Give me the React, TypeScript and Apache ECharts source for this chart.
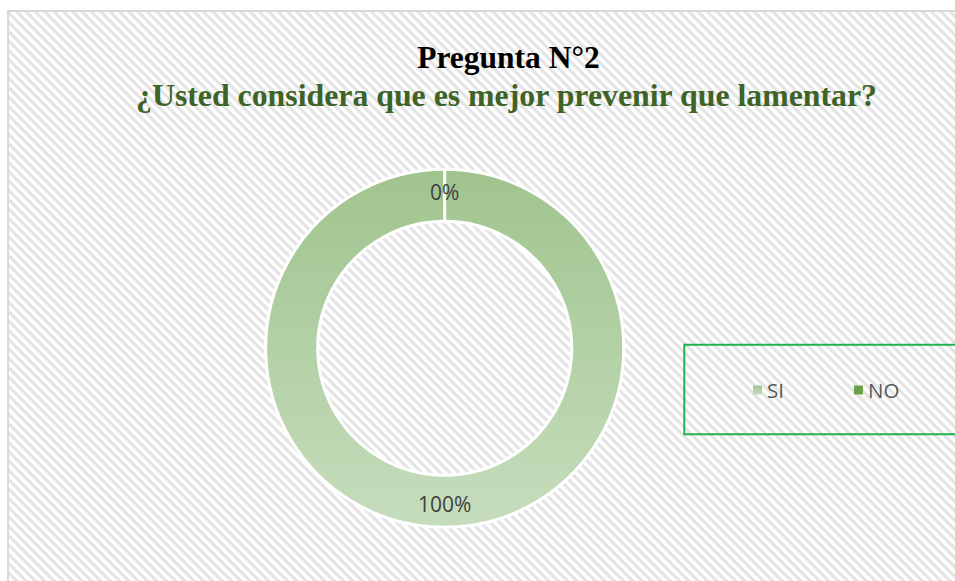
import React, { useEffect, useRef } from "react";
import * as echarts from "echarts";

const titleText = "Pregunta N°2";
const subtitleText = "¿Usted considera que es mejor prevenir que lamentar?";
const categories = ["SI", "NO"];
const values = [100, 0];

export default function App() {
  const ref = useRef<HTMLDivElement>(null);
  useEffect(() => {
    if (!ref.current) return;
    const chart = echarts.init(ref.current, null, { renderer: "svg" });
    const siColor = new echarts.graphic.LinearGradient(0, 0, 0, 1, [
      { offset: 0, color: "#a0c48e" },
      { offset: 1, color: "#c6ddbd" },
    ]);
    const colors = [siColor, "#6e9f4c"];
    chart.setOption({
      animation: false,
      backgroundColor: "transparent",
      graphic: [
        {
          type: "text",
          x: 500.5,
          y: 46.8,
          silent: true,
          style: {
            text: titleText,
            fill: "#000000",
            font: 'bold 31.5px "Liberation Serif"',
            align: "center",
            verticalAlign: "middle",
          },
        },
        {
          type: "text",
          x: 498.5,
          y: 84.2,
          silent: true,
          style: {
            text: subtitleText,
            fill: "#3e6327",
            font: 'bold 31.8px "Liberation Serif"',
            align: "center",
            verticalAlign: "middle",
          },
        },
        {
          type: "rect",
          silent: true,
          shape: { x: 676.3, y: 333.7, width: 300, height: 89.6 },
          style: { fill: "none", stroke: "#21b24f", lineWidth: 2 },
        },
      ],
      legend: {
        data: categories,
        left: 745,
        top: 368,
        padding: 0,
        icon: "rect",
        itemWidth: 9,
        itemHeight: 9,
        itemGap: 70,
        selectedMode: false,
        itemStyle: { borderWidth: 0 },
        textStyle: {
          fontFamily: '"Open Sans"',
          fontSize: 20.5,
          lineHeight: 22,
          color: "#595959",
        },
      },
      series: [
        {
          type: "pie",
          center: [436.7, 337.3],
          radius: [127, 179],
          startAngle: 90,
          clockwise: true,
          silent: true,
          avoidLabelOverlap: false,
          itemStyle: { borderColor: "#ffffff", borderWidth: 3 },
          label: {
            show: true,
            position: "inside",
            formatter: "{d}%",
            fontFamily: '"Open Sans"',
            fontSize: 21,
            color: "#404040",
          },
          labelLine: { show: false },
          data: categories.map((c, i) => ({
            name: c,
            value: values[i],
            itemStyle: { color: colors[i] },
          })),
        },
      ],
    });
    return () => chart.dispose();
  }, []);

  return (
    <>
      <div
        style={{
          position: "fixed",
          left: 7,
          top: 10,
          width: 970,
          height: 590,
          boxSizing: "border-box",
          border: "2px solid #d9d9d9",
          background:
            "repeating-linear-gradient(45deg, #ffffff 0px, #ffffff 2px, #e4e4e4 3.4px, #e4e4e4 5.2px, #ffffff 6.6px)",
        }}
      />
      <div
        ref={ref}
        style={{ position: "fixed", left: 8, top: 11, width: 947, height: 570 }}
      />
    </>
  );
}
